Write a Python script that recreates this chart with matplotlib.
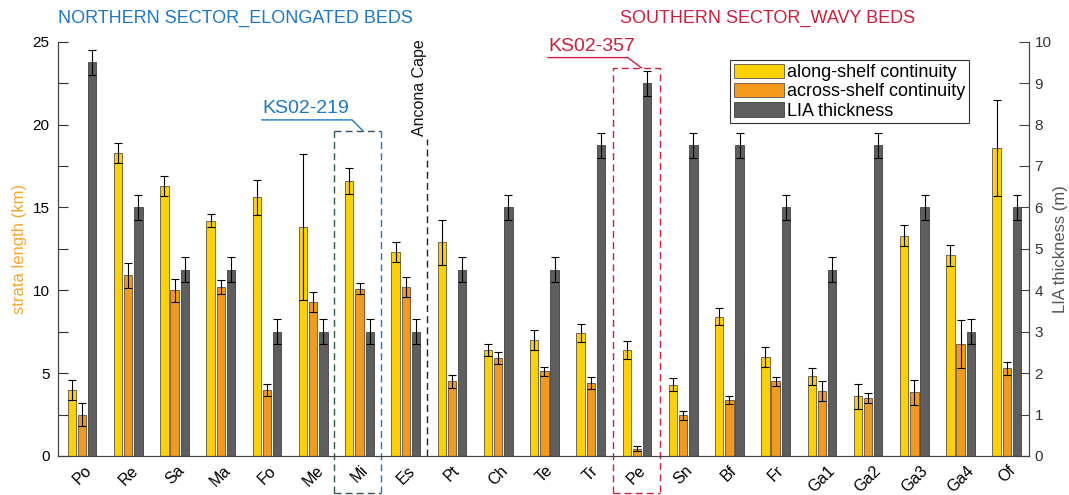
import numpy as np
import matplotlib.pyplot as plt
from matplotlib.patches import Patch
from matplotlib.ticker import MultipleLocator

plt.rcParams['font.family'] = ['Liberation Sans', 'DejaVu Sans']

# Data
sites = ['Po', 'Re', 'Sa', 'Ma', 'Fo', 'Me', 'Mi', 'Es', 'Pt', 'Ch', 'Te',
         'Tr', 'Pe', 'Sn', 'Bf', 'Fr', 'Ga1', 'Ga2', 'Ga3', 'Ga4', 'Of']
along = [4.0, 18.3, 16.3, 14.2, 15.6, 13.8, 16.6, 12.3, 12.9, 6.4, 7.0,
         7.4, 6.4, 4.3, 8.4, 6.0, 4.8, 3.6, 13.3, 12.1, 18.6]
along_err = [0.6, 0.6, 0.6, 0.4, 1.05, 4.4, 0.8, 0.6, 1.35, 0.35, 0.6,
             0.55, 0.55, 0.4, 0.5, 0.6, 0.5, 0.75, 0.65, 0.65, 2.9]
across = [2.5, 10.9, 10.0, 10.2, 4.0, 9.3, 10.1, 10.2, 4.5, 5.9, 5.1,
          4.4, 0.45, 2.45, 3.4, 4.5, 3.9, 3.5, 3.85, 6.75, 5.3]
across_err = [0.7, 0.75, 0.7, 0.4, 0.35, 0.6, 0.35, 0.6, 0.4, 0.35, 0.3,
              0.35, 0.15, 0.25, 0.25, 0.25, 0.6, 0.3, 0.75, 1.45, 0.4]
lia = [9.5, 6.0, 4.5, 4.5, 3.0, 3.0, 3.0, 3.0, 4.5, 6.0, 4.5,
       7.5, 9.0, 7.5, 7.5, 6.0, 4.5, 7.5, 6.0, 3.0, 6.0]
lia_err = [0.3] * 21

c_yel = '#ffd000'
c_ora = '#f5991c'
c_gry = '#5e5e5e'
c_blue = '#1f78c4'
c_red = '#cc1f3f'

x = np.arange(1, len(sites) + 1)
w = 0.18
off = 0.22

fig = plt.figure(figsize=(10.69, 4.95), dpi=100)
ax = fig.add_axes([0.0543, 0.0788, 0.9083, 0.837])
ax2 = ax.twinx()

ax.bar(x - off, along, w, color=c_yel, edgecolor='#3a3a3a', linewidth=0.5)
ax.bar(x, across, w, color=c_ora, edgecolor='#3a3a3a', linewidth=0.5)
ax2.bar(x + off, lia, w, color=c_gry, edgecolor='#2a2a2a', linewidth=0.5)

eb = dict(fmt='none', ecolor='black', elinewidth=0.8, capsize=3.2, capthick=0.8)
ax.errorbar(x - off, along, yerr=along_err, **eb)
ax.errorbar(x, across, yerr=across_err, **eb)
ax2.errorbar(x + off, lia, yerr=lia_err, **eb)

ax.set_xlim(0.48, 21.48)
ax.set_ylim(0, 25)
ax2.set_ylim(0, 10)

ax.set_xticks(x)
ax.set_xticklabels(sites, rotation=45, ha='center', va='top', fontsize=11.5)
ax.tick_params(axis='x', length=0, pad=5)
ax.yaxis.set_major_locator(MultipleLocator(5))
ax.yaxis.set_minor_locator(MultipleLocator(2.5))
ax.tick_params(axis='y', which='both', direction='in', length=7, width=0.8,
               labelsize=11, pad=6, color='#333333')
ax2.yaxis.set_major_locator(MultipleLocator(1))
ax2.tick_params(axis='y', direction='in', length=7, width=0.8, labelsize=11,
                pad=4, color='#444444', labelcolor='#333333')

for a in (ax, ax2):
    a.spines['top'].set_visible(False)
    for s in ('left', 'right', 'bottom'):
        a.spines[s].set_color('#444444')
        a.spines[s].set_linewidth(0.8)

ax.set_ylabel('strata length (km)', color='#f5a830', fontsize=12, labelpad=4)
ax2.set_ylabel('LIA thickness (m)', color='#555555', fontsize=12, labelpad=1)

# sector titles
fig.text(58 / 1069, 1 - 18 / 495, 'NORTHERN SECTOR_ELONGATED BEDS',
         color=c_blue, fontsize=13, ha='left', va='center')
fig.text(620 / 1069, 1 - 18 / 495, 'SOUTHERN SECTOR_WAVY BEDS',
         color=c_red, fontsize=13, ha='left', va='center')

# KS02-219 box around Mi
bot = -2.25
ax.plot([6.45, 6.45], [bot, 19.6], ls=(0, (5, 3)), color='#2e5a52', lw=1, clip_on=False)
ax.plot([6.45, 7.46], [19.6, 19.6], ls=(0, (5, 3)), color='#3a4f5a', lw=1, clip_on=False)
ax.plot([7.46, 7.46], [bot, 19.6], ls=(0, (5, 3)), color=c_blue, lw=1, clip_on=False)
ax.plot([6.45, 7.46], [bot, bot], ls=(0, (5, 3)), color='#3a4f5a', lw=1, clip_on=False)
ax.text(4.89, 20.95, 'KS02-219', color=c_blue, fontsize=14, ha='left', va='center')
ax.plot([4.89, 6.84, 7.08], [20.28, 20.28, 19.6], color=c_blue, lw=1, clip_on=False)

# Ancona Cape divider
ax.plot([8.46, 8.46], [0, 19.1], ls=(0, (5, 3)), color='#222222', lw=1)
ax.text(8.29, 19.3, 'Ancona Cape', rotation=90, fontsize=11.5, ha='center',
        va='bottom', color='#111111', clip_on=False)

# KS02-357 box around Pe
ax.plot([12.48, 12.48, 13.5, 13.5], [bot, 23.42, 23.42, bot], ls=(0, (5, 3)),
        color=c_red, lw=1, clip_on=False)
ax.plot([12.48, 13.5], [bot, bot], ls=(0, (5, 3)), color=c_red, lw=1, clip_on=False)
ax.text(11.08, 24.68, 'KS02-357', color=c_red, fontsize=14, ha='left', va='center')
ax.plot([11.08, 12.8, 13.1], [24.04, 24.04, 23.42], color=c_red, lw=1, clip_on=False)

handles = [Patch(facecolor=c_yel, edgecolor='#3a3a3a', linewidth=0.5),
           Patch(facecolor=c_ora, edgecolor='#3a3a3a', linewidth=0.5),
           Patch(facecolor=c_gry, edgecolor='#2a2a2a', linewidth=0.5)]
labels = ['along-shelf continuity', 'across-shelf continuity', 'LIA thickness']
leg = ax2.legend(handles, labels, loc='upper left', fontsize=13,
                 bbox_to_anchor=(730 / 1069, 1 - 60 / 495), bbox_transform=fig.transFigure,
                 fancybox=False, framealpha=1, edgecolor='#333333',
                 handlelength=2.8, handleheight=0.85, handletextpad=0.15,
                 labelspacing=0.1, borderpad=0.2, borderaxespad=0)
leg.get_frame().set_linewidth(0.8)

fig.savefig('out.png', dpi=100)
